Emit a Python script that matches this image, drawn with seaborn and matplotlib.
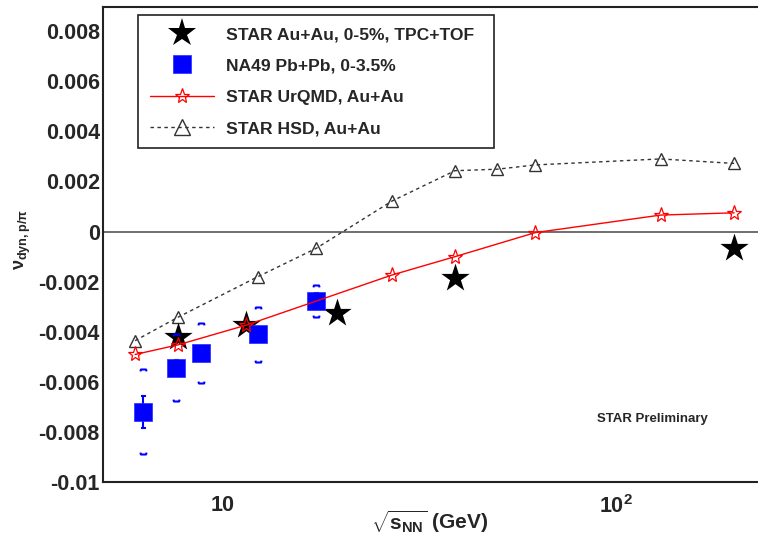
import numpy as np
import matplotlib
matplotlib.use("Agg")
import matplotlib.pyplot as plt
from matplotlib.path import Path
from matplotlib.lines import Line2D
from matplotlib.ticker import FixedLocator, FixedFormatter, NullFormatter, LogLocator, MultipleLocator
import seaborn as sns

# ---------------- data ----------------
star_energy = [7.7, 11.5, 19.6, 39.0, 200.0]
star_vdyn = [-0.0042, -0.00373, -0.00325, -0.00187, -0.00065]

na49_energy = [6.3, 7.6, 8.8, 12.3, 17.3]
na49_vdyn = [-0.00719, -0.00543, -0.00485, -0.00409, -0.00276]
na49_stat = [0.00065, 0.0003, 0.0003, 0.0003, 0.0003]
na49_sys = [0.0017, 0.00133, 0.0012, 0.0011, 0.00065]

urqmd_energy = [6.0, 7.7, 11.5, 27.0, 39.0, 62.4, 130.0, 200.0]
urqmd_vdyn = [-0.0049, -0.00452, -0.00373, -0.00173, -0.00100, -0.00004, 0.00066, 0.00075]

hsd_energy = [6.0, 7.7, 12.3, 17.3, 27.0, 39.0, 50.0, 62.4, 130.0, 200.0]
hsd_vdyn = [-0.00435, -0.00342, -0.0018, -0.00067, 0.00122, 0.00243, 0.00249, 0.00266, 0.0029, 0.00272]

legend_labels = ["STAR Au+Au, 0-5%, TPC+TOF", "NA49 Pb+Pb, 0-3.5%",
                 "STAR UrQMD, Au+Au", "STAR HSD, Au+Au"]

y_ticks = [-0.01, -0.008, -0.006, -0.004, -0.002, 0.0, 0.002, 0.004, 0.006, 0.008]
y_tick_labels = ["-0.01", "-0.008", "-0.006", "-0.004", "-0.002", "0",
                 "0.002", "0.004", "0.006", "0.008"]
x_ticks = [10, 100]
x_tick_labels = ["10", r"$\mathbf{10^{2}}$"]

x_label = r"$\sqrt{\mathbf{s}_{\mathbf{NN}}}$ (GeV)"
y_label = r"$\mathrm{\nu}_{\mathbf{dyn,p/\pi}}$"
note = "STAR Preliminary"

# ---------------- style ----------------
sns.set_style("white")
plt.rcParams["font.family"] = ["Liberation Sans", "DejaVu Sans"]
plt.rcParams["font.weight"] = "bold"
plt.rcParams["mathtext.fontset"] = "custom"
plt.rcParams["mathtext.rm"] = "Liberation Sans"
plt.rcParams["mathtext.it"] = "Liberation Sans:italic"
plt.rcParams["mathtext.bf"] = "Liberation Sans:bold"

fig = plt.figure(figsize=(7.58, 5.35), dpi=100)
ax = fig.add_axes([0.1363, 0.0985, 0.8637, 0.8884])

ax.axhline(0, color="#555555", lw=1.2, zorder=1)

# HSD
sns.lineplot(x=hsd_energy, y=hsd_vdyn, ax=ax, color="#333333", lw=1,
             linestyle=(0, (2.5, 2.5)), marker="^", markersize=9,
             markerfacecolor="none", markeredgecolor="#333333",
             markeredgewidth=1, zorder=3)

# STAR data
sns.scatterplot(x=star_energy, y=star_vdyn, ax=ax, marker="*", s=460,
                color="black", linewidth=0, zorder=4)

# NA49 stat errors
ax.errorbar(na49_energy, na49_vdyn, yerr=na49_stat, fmt="none", ecolor="blue",
            elinewidth=1.5, capsize=1.8, capthick=1.5, zorder=4)
# NA49 systematic brackets
top_br = Path([(-1, -0.6), (-0.8, 0), (0.8, 0), (1, -0.6)])
bot_br = Path([(-1, 0.6), (-0.8, 0), (0.8, 0), (1, 0.6)])
na49_up = [v + s for v, s in zip(na49_vdyn, na49_sys)]
na49_lo = [v - s for v, s in zip(na49_vdyn, na49_sys)]
ax.plot(na49_energy, na49_up, ls="none", marker=top_br, markersize=4.5,
        markerfacecolor="none", markeredgecolor="blue", markeredgewidth=1.5, zorder=4)
ax.plot(na49_energy, na49_lo, ls="none", marker=bot_br, markersize=4.5,
        markerfacecolor="none", markeredgecolor="blue", markeredgewidth=1.5, zorder=4)
sns.scatterplot(x=na49_energy, y=na49_vdyn, ax=ax, marker="s", s=150,
                color="#0000ff", edgecolor="#2a2aff", linewidth=0.5, zorder=5)

# UrQMD
sns.lineplot(x=urqmd_energy, y=urqmd_vdyn, ax=ax, color="red", lw=1,
             marker="*", markersize=11, markerfacecolor="none",
             markeredgecolor="red", markeredgewidth=0.9, zorder=6)

# ---------------- axes ----------------
ax.set_xscale("log")
ax.set_xlim(4.98, 230)
ax.set_ylim(-0.01, 0.00896)

ax.xaxis.set_major_locator(FixedLocator(x_ticks))
ax.xaxis.set_major_formatter(FixedFormatter(x_tick_labels))
ax.xaxis.set_minor_locator(LogLocator(base=10, subs=np.arange(2, 10), numticks=20))
ax.xaxis.set_minor_formatter(NullFormatter())
ax.yaxis.set_major_locator(FixedLocator(y_ticks))
ax.yaxis.set_major_formatter(FixedFormatter(y_tick_labels))
ax.yaxis.set_minor_locator(MultipleLocator(0.0004))

ax.tick_params(axis="both", which="both", direction="in", color="#222222",
               width=1, labelsize=15.5, top=False, right=False)
ax.tick_params(axis="x", which="major", length=10, pad=9)
ax.tick_params(axis="x", which="minor", length=5)
ax.tick_params(axis="y", which="major", length=8.6, pad=2.5)
ax.tick_params(axis="y", which="minor", length=4.3)
for lab in ax.get_xticklabels() + ax.get_yticklabels():
    lab.set_fontweight("bold")

for side in ["left", "bottom", "top"]:
    ax.spines[side].set_linewidth(1.5)
    ax.spines[side].set_color("#222222")
ax.spines["right"].set_visible(False)

ax.set_xlabel(x_label, fontsize=15, fontweight="bold")
ax.xaxis.set_label_coords(0.499, -0.054)
ax.set_ylabel(y_label, fontsize=13, fontweight="normal")
ax.yaxis.set_label_coords(-0.108, 0.51)

ax.text(0.754, 0.1325, note, transform=ax.transAxes, ha="left", va="center",
        fontsize=9.5, fontweight="bold")

# ---------------- legend ----------------
handles = [
    Line2D([], [], ls="none", marker="*", markersize=21, color="black", markeredgewidth=0),
    Line2D([], [], ls="none", marker="s", markersize=13, color="#0000ff",
           markeredgecolor="#2a2aff", markeredgewidth=0.5),
    Line2D([], [], color="red", lw=1, marker="*", markersize=11, markerfacecolor="none",
           markeredgecolor="red", markeredgewidth=0.9),
    Line2D([], [], color="#333333", lw=1, ls=(0, (2.5, 2.5)), marker="^", markersize=11,
           markerfacecolor="none", markeredgecolor="#333333", markeredgewidth=1),
]
leg = ax.legend(handles, legend_labels, loc="upper left",
                bbox_to_anchor=(0.0535, 0.7061, 0.5437, 0.2771), mode="expand",
                borderaxespad=0, fancybox=False, shadow=False, framealpha=1,
                edgecolor="#222222", borderpad=0.68, labelspacing=0.92,
                handlelength=3.67, handletextpad=0.67,
                prop={"weight": "bold", "size": 12.6})
leg.get_frame().set_linewidth(1.2)

fig.savefig("out.png", dpi=100)
